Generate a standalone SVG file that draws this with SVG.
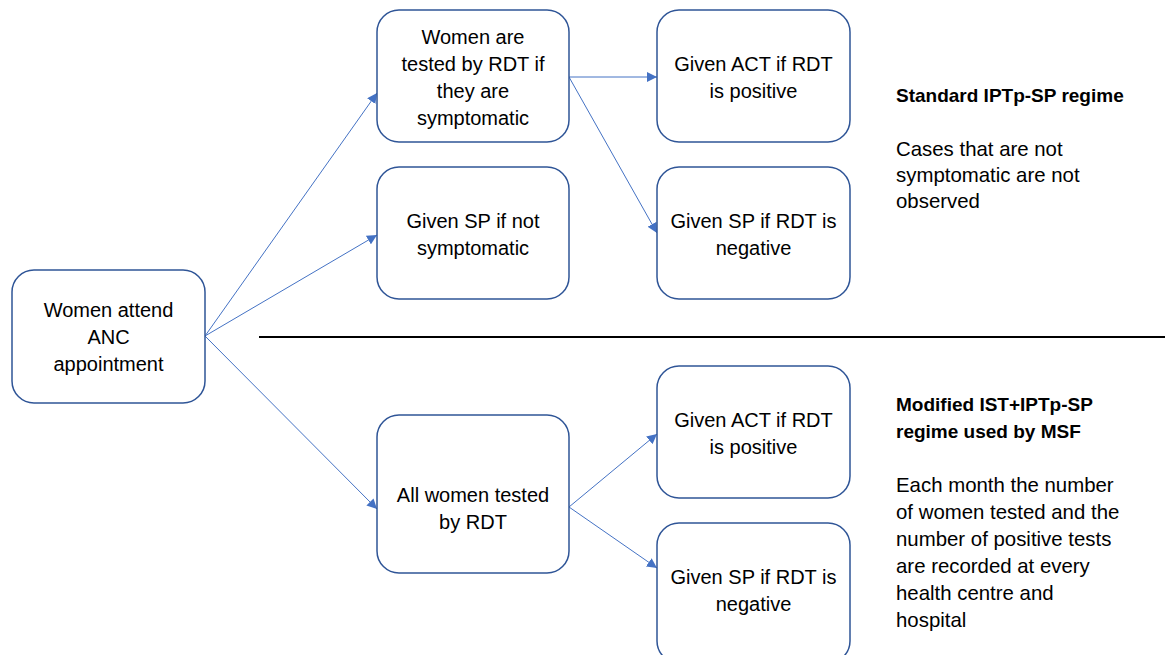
<svg xmlns="http://www.w3.org/2000/svg" width="1165" height="655" viewBox="0 0 1165 655">
<style>
.box{fill:#fff;stroke:#2F5597;stroke-width:1.5}
.t{font-family:"Liberation Sans",Arial,sans-serif;font-size:20px;fill:#000;text-anchor:middle}
.r{font-family:"Liberation Sans",Arial,sans-serif;font-size:20.4px;fill:#000}
.b{font-weight:bold;font-size:19px}
.c{stroke:#4472C4;stroke-width:1;fill:none;marker-end:url(#ah)}
</style>
<defs>
<marker id="ah" viewBox="0 0 10 10" refX="10" refY="5" markerWidth="10" markerHeight="10" markerUnits="userSpaceOnUse" orient="auto">
<path d="M0,0 L10,5 L0,10 z" fill="#4472C4"/>
</marker>
</defs>
<rect width="1165" height="655" fill="#fff"/>
<g id="connectors">
<line class="c" x1="205" y1="336" x2="377" y2="93"/>
<line class="c" x1="205" y1="336" x2="377" y2="235"/>
<line class="c" x1="205" y1="336" x2="377" y2="509"/>
<line class="c" x1="569" y1="77" x2="657" y2="77"/>
<line class="c" x1="569" y1="77" x2="657" y2="233"/>
<line class="c" x1="569" y1="507" x2="657" y2="434"/>
<line class="c" x1="569" y1="507" x2="657" y2="568"/>
</g>
<line id="divider" x1="259" y1="337" x2="1165" y2="337" stroke="#000" stroke-width="2"/>
<g id="n-attend">
<rect class="box" x="12" y="270" width="193" height="133" rx="22"/>
<text class="t" x="108.5" y="317">Women attend</text>
<text class="t" x="108.5" y="344">ANC</text>
<text class="t" x="108.5" y="371">appointment</text>
</g>
<g id="n-symp">
<rect class="box" x="377" y="10" width="192" height="132" rx="22"/>
<text class="t" x="473" y="44">Women are</text>
<text class="t" x="473" y="71">tested by RDT if</text>
<text class="t" x="473" y="98">they are</text>
<text class="t" x="473" y="125">symptomatic</text>
</g>
<g id="n-notsymp">
<rect class="box" x="377" y="167" width="192" height="132" rx="22"/>
<text class="t" x="473" y="228">Given SP if not</text>
<text class="t" x="473" y="255">symptomatic</text>
</g>
<g id="n-act1">
<rect class="box" x="657" y="10" width="193" height="132" rx="22"/>
<text class="t" x="753.5" y="71">Given ACT if RDT</text>
<text class="t" x="753.5" y="98">is positive</text>
</g>
<g id="n-sp1">
<rect class="box" x="657" y="167" width="193" height="132" rx="22"/>
<text class="t" x="753.5" y="228">Given SP if RDT is</text>
<text class="t" x="753.5" y="255">negative</text>
</g>
<g id="n-all">
<rect class="box" x="377" y="415" width="192" height="158" rx="22"/>
<text class="t" x="473" y="502">All women tested</text>
<text class="t" x="473" y="529">by RDT</text>
</g>
<g id="n-act2">
<rect class="box" x="657" y="366" width="193" height="132" rx="22"/>
<text class="t" x="753.5" y="427">Given ACT if RDT</text>
<text class="t" x="753.5" y="454">is positive</text>
</g>
<g id="n-sp2">
<rect class="box" x="657" y="523" width="193" height="140" rx="22"/>
<text class="t" x="753.5" y="584">Given SP if RDT is</text>
<text class="t" x="753.5" y="611">negative</text>
</g>
<g id="note-standard">
<text class="r b" x="896" y="102">Standard IPTp-SP regime</text>
<text class="r" x="896" y="156">Cases that are not</text>
<text class="r" x="896" y="182">symptomatic are not</text>
<text class="r" x="896" y="208">observed</text>
</g>
<g id="note-modified">
<text class="r b" x="896" y="411">Modified IST+IPTp-SP</text>
<text class="r b" x="896" y="438">regime used by MSF</text>
<text class="r" x="896" y="492">Each month the number</text>
<text class="r" x="896" y="519">of women tested and the</text>
<text class="r" x="896" y="546">number of positive tests</text>
<text class="r" x="896" y="573">are recorded at every</text>
<text class="r" x="896" y="600">health centre and</text>
<text class="r" x="896" y="627">hospital</text>
</g>
</svg>
